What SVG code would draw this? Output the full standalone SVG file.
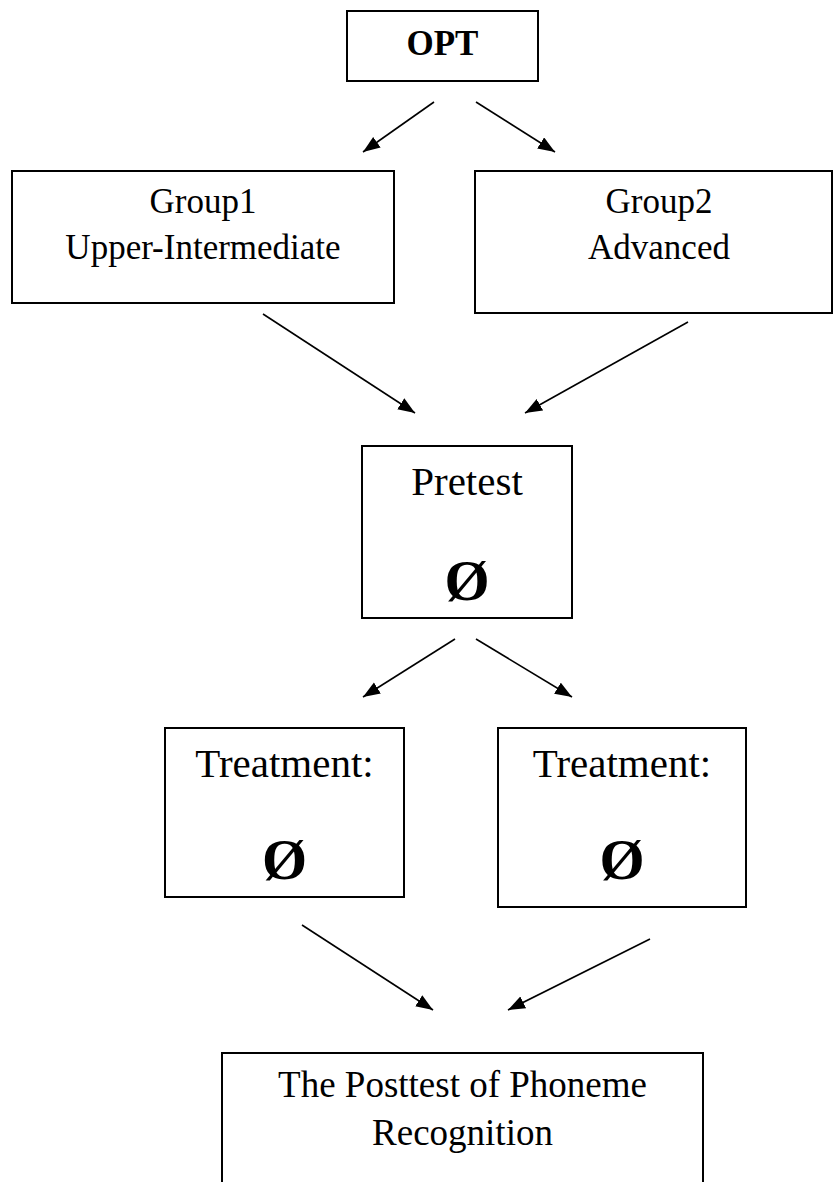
<svg xmlns="http://www.w3.org/2000/svg" width="834" height="1182" viewBox="0 0 834 1182">
<style>
.box{fill:#fff;stroke:#000;stroke-width:2}
.t{font-family:"Liberation Serif","Times New Roman",serif;fill:#000;text-anchor:middle}
.z{font-size:58px;font-weight:bold}
.c{stroke:#000;stroke-width:1.6;fill:none;marker-end:url(#ah)}
</style>
<defs>
<marker id="ah" markerUnits="userSpaceOnUse" markerWidth="18" markerHeight="14" refX="17" refY="6.5" orient="auto">
<path d="M0,0 L17,6.5 L0,13 z" fill="#000"/>
</marker>
</defs>
<rect width="834" height="1182" fill="#fff"/>
<g id="opt">
<rect class="box" x="347" y="11" width="191" height="70"/>
<text class="t" x="442.5" y="55" font-size="35" font-weight="bold">OPT</text>
</g>
<g id="group1">
<rect class="box" x="12" y="171" width="382" height="132"/>
<text class="t" x="203" y="213" font-size="35">Group1</text>
<text class="t" x="203" y="259" font-size="35">Upper-Intermediate</text>
</g>
<g id="group2">
<rect class="box" x="475" y="171" width="357" height="142"/>
<text class="t" x="659" y="213" font-size="35">Group2</text>
<text class="t" x="659" y="259" font-size="35">Advanced</text>
</g>
<g id="pretest">
<rect class="box" x="362" y="446" width="210" height="172"/>
<text class="t" x="467" y="495" font-size="41">Pretest</text>
<text class="t z" x="467" y="600">Ø</text>
</g>
<g id="treatment1">
<rect class="box" x="165" y="728" width="239" height="169"/>
<text class="t" x="284.5" y="777" font-size="41">Treatment:</text>
<text class="t z" x="284.5" y="879">Ø</text>
</g>
<g id="treatment2">
<rect class="box" x="498" y="728" width="248" height="179"/>
<text class="t" x="622" y="777" font-size="41">Treatment:</text>
<text class="t z" x="622" y="879">Ø</text>
</g>
<g id="posttest">
<rect class="box" x="222" y="1053" width="481" height="160"/>
<text class="t" x="462.5" y="1097" font-size="37">The Posttest of Phoneme</text>
<text class="t" x="462.5" y="1145" font-size="37">Recognition</text>
</g>
<g id="connectors">
<line class="c" x1="434" y1="102" x2="363" y2="152"/>
<line class="c" x1="476" y1="102" x2="555" y2="152"/>
<line class="c" x1="263" y1="314" x2="415" y2="413"/>
<line class="c" x1="688" y1="322" x2="525" y2="413"/>
<line class="c" x1="455" y1="639" x2="363" y2="697"/>
<line class="c" x1="476" y1="639" x2="572" y2="697"/>
<line class="c" x1="302" y1="925" x2="433" y2="1010"/>
<line class="c" x1="650" y1="939" x2="508" y2="1010"/>
</g>
</svg>
